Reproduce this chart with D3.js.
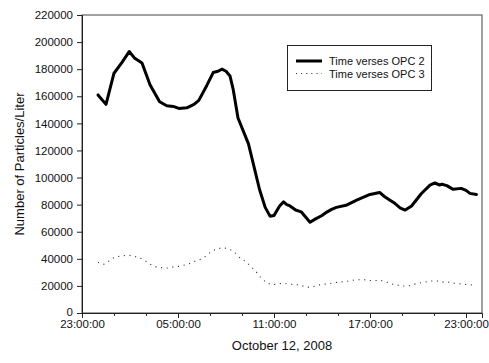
<!DOCTYPE html>
<html>
<head>
<meta charset="utf-8">
<script src="https://cdn.jsdelivr.net/npm/d3@7"></script>
<style>
  html, body { margin: 0; padding: 0; background: #fff; }
  svg { display: block; font-family: "Liberation Sans", Arial, sans-serif; }
</style>
</head>
<body>
<svg id="chart" width="489" height="363"></svg>
<script>
// Particle counts, hours elapsed since 23:00 on October 11, 2008
const opc2Hours = [1.0, 1.5, 2.0, 2.5, 2.95, 3.3, 3.75, 4.25, 4.85, 5.3, 5.7, 6.05, 6.55, 7.0, 7.3, 7.8, 8.2, 8.5, 8.75, 9.0, 9.25, 9.45, 9.75, 10.4, 10.7, 11.1, 11.45, 11.75, 12.0, 12.35, 12.6, 12.8, 13.0, 13.35, 13.7, 14.0, 14.25, 14.6, 15.0, 15.3, 15.6, 15.9, 16.5, 17.2, 17.6, 18.0, 18.6, 18.9, 19.25, 19.55, 19.9, 20.2, 20.6, 21.2, 21.75, 22.05, 22.35, 22.5, 22.8, 23.2, 23.7, 24.0, 24.25, 24.65];
const opc2Values = [161000, 154000, 177000, 185000, 193000, 188000, 184500, 168500, 156000, 153000, 152500, 151000, 151500, 154000, 157000, 168000, 177500, 178500, 180000, 178500, 175000, 165000, 144000, 125000, 110500, 91000, 78000, 71500, 72000, 79000, 82000, 80000, 79000, 76000, 74700, 70500, 67000, 69500, 72000, 74500, 76500, 78000, 79500, 83500, 85500, 87500, 89000, 86000, 83300, 81000, 77500, 76000, 79000, 88000, 94400, 96000, 94500, 95000, 94000, 91300, 92000, 90500, 88300, 87500];

const opc3Hours = [1.0, 1.4, 1.75, 2.1, 2.5, 2.85, 3.2, 3.5, 3.9, 4.2, 4.55, 4.95, 5.3, 5.65, 6.0, 6.35, 6.7, 7.0, 7.4, 7.75, 8.1, 8.45, 8.8, 9.2, 9.5, 9.85, 10.2, 10.55, 10.9, 11.2, 11.55, 11.9, 12.3, 12.6, 13.0, 13.3, 13.7, 14.0, 14.35, 14.7, 15.1, 15.4, 15.8, 16.1, 16.5, 16.85, 17.2, 17.6, 17.9, 18.2, 18.6, 18.95, 19.3, 19.65, 20.0, 20.35, 20.7, 21.1, 21.45, 21.8, 22.2, 22.5, 22.85, 23.2, 23.6, 23.95, 24.25, 24.625];
const opc3Values = [37500, 36000, 39000, 41300, 42000, 42600, 42000, 41000, 39000, 36400, 34400, 33500, 33200, 33900, 34400, 35200, 36400, 38000, 39600, 42000, 45500, 47300, 48000, 47000, 45000, 41000, 38000, 34400, 30200, 25800, 22500, 20900, 21600, 21800, 21300, 21000, 20400, 19100, 19100, 20400, 21100, 21600, 22400, 22800, 23300, 24000, 24600, 24600, 24000, 24000, 24000, 23300, 21600, 20900, 19900, 19900, 21100, 22100, 22800, 23600, 23600, 22800, 22800, 22100, 21600, 21100, 20900, 19900];

const seriesNames = ["Time verses OPC 2", "Time verses OPC 3"];
const yTicks = [0, 20000, 40000, 60000, 80000, 100000, 120000, 140000, 160000, 180000, 200000, 220000];
const xAxisTitle = "October 12, 2008";
const yAxisTitle = "Number of Particles/Liter";

const start = new Date(2008, 9, 11, 23, 0, 0);
const end = new Date(2008, 9, 13, 0, 0, 0);
const toDate = h => new Date(start.getTime() + h * 3600000);

const opc2 = opc2Hours.map((h, i) => ({ t: toDate(h), v: opc2Values[i] }));
const opc3 = opc3Hours.map((h, i) => ({ t: toDate(h), v: opc3Values[i] }));

const svg = d3.select("#chart");
const m = { left: 82, right: 7, top: 15, bottom: 50 };
const W = 489, H = 363;

const x = d3.scaleTime().domain([start, end]).range([m.left, W - m.right]);
const y = d3.scaleLinear().domain([0, 220000]).range([H - m.bottom, m.top]);

const majorTimes = d3.range(0, 25, 6).map(toDate);
const minorTimes = d3.range(0, 25, 2).filter(h => h % 6 !== 0).map(toDate);

// frame (top and right edges)
svg.append("rect")
  .attr("x", x.range()[0]).attr("y", y.range()[1])
  .attr("width", x.range()[1] - x.range()[0])
  .attr("height", y.range()[0] - y.range()[1])
  .attr("fill", "none").attr("stroke", "#444").attr("stroke-width", 1);

// x axis
svg.append("g")
  .attr("transform", `translate(0,${y.range()[0]})`)
  .call(d3.axisBottom(x).tickValues(majorTimes).tickFormat(d3.timeFormat("%H:%M:%S")).tickSize(5).tickPadding(2));

svg.append("g")
  .attr("transform", `translate(0,${y.range()[0]})`)
  .call(d3.axisBottom(x).tickValues(minorTimes).tickFormat("").tickSize(3))
  .call(g => g.select(".domain").remove());

// y axis
const yAxisG = svg.append("g")
  .attr("transform", `translate(${x.range()[0]},0)`)
  .call(d3.axisLeft(y).tickValues(yTicks).tickFormat(d3.format("d")).tickSize(5).tickPadding(4));

svg.selectAll(".tick text").attr("font-size", 11.5).attr("fill", "#111")
  .attr("font-family", '"Liberation Sans", Arial, sans-serif');
svg.selectAll(".domain, .tick line").attr("stroke", "#222");

// lift the zero label slightly so it clears the time labels below
yAxisG.selectAll(".tick text").filter(d => d === 0).attr("dy", "0.18em");

// axis titles
svg.append("text")
  .attr("x", (x.range()[0] + x.range()[1]) / 2).attr("y", 350)
  .attr("text-anchor", "middle").attr("font-size", 13).attr("fill", "#111")
  .text(xAxisTitle);

svg.append("text")
  .attr("transform", `translate(23.5,${(y.range()[0] + y.range()[1]) / 2}) rotate(-90)`)
  .attr("text-anchor", "middle").attr("font-size", 13).attr("fill", "#111")
  .text(yAxisTitle);

// series lines
svg.append("path").datum(opc3)
  .attr("d", d3.line().x(d => x(d.t)).y(d => y(d.v)).curve(d3.curveMonotoneX))
  .attr("fill", "none").attr("stroke", "#333").attr("stroke-width", 1.1)
  .attr("stroke-dasharray", "1.1,4.6");

svg.append("path").datum(opc2)
  .attr("d", d3.line().x(d => x(d.t)).y(d => y(d.v)))
  .attr("fill", "none").attr("stroke", "#000").attr("stroke-width", 3)
  .attr("stroke-linejoin", "round").attr("stroke-linecap", "round");

// legend
const legend = svg.append("g");
legend.append("rect")
  .attr("x", 287.5).attr("y", 45.5).attr("width", 144).attr("height", 45)
  .attr("fill", "#fff").attr("stroke", "#222").attr("stroke-width", 1);

const legendRows = [
  { name: seriesNames[0], cy: 61, width: 3, dash: null, color: "#000" },
  { name: seriesNames[1], cy: 73.5, width: 1.1, dash: "1.1,4", color: "#333" }
];
legendRows.forEach(r => {
  legend.append("line")
    .attr("x1", 296).attr("x2", 322).attr("y1", r.cy).attr("y2", r.cy)
    .attr("stroke", r.color).attr("stroke-width", r.width)
    .attr("stroke-dasharray", r.dash);
  legend.append("text")
    .attr("x", 329).attr("y", r.cy + 4)
    .attr("font-size", 11).attr("fill", "#111")
    .text(r.name);
});
</script>
</body>
</html>
